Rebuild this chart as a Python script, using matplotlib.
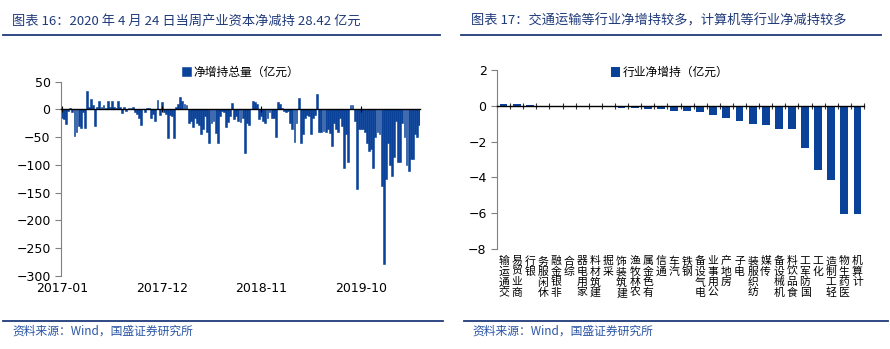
import matplotlib.pyplot as plt
from matplotlib.lines import Line2D
import numpy as np

plt.rcParams['font.family'] = ['Noto Sans CJK SC', 'DejaVu Sans']

BLUE = '#0a4299'
NAVY = '#1f3a7a'
FOOT = '#2a55a5'

# weekly net change of industrial capital holdings (100m yuan), 2017-01-06 .. 2020-04-24
net_total = [
    -15, -18, -27, -3, 2, -5, -48, -40, -30, -33,
    -5, -33, 33, 5, 18, 8, -30, 5, 16, 5,
    8, 3, 16, 5, 16, 5, 3, 16, 5, -6,
    5, -3, 3, 2, 4, -5, -8, -15, -28, 0,
    -5, 3, 2, -15, -8, -20, 17, -10, 13, -5,
    -8, -52, -10, -12, -52, 5, 10, 23, 15, 10,
    8, -25, -20, -32, -15, -25, -28, -45, -35, -12,
    -40, -60, -25, -20, -42, -60, -12, -3, -5, -32,
    -22, -12, 12, -18, -12, -20, -22, -15, -78, -25,
    -28, 0, 15, 13, 10, -18, -12, -20, -25, -15,
    -5, -15, -15, -50, 13, 10, 3, -3, -5, -3,
    -25, -35, -58, -25, 20, -60, -45, -15, -10, -12,
    -45, -15, -10, 27, -40, -40, -38, -40, -35, -43,
    -65, -25, -35, -40, -15, -30, -105, -45, -95, 8,
    8, -20, -143, -35, -35, -35, -40, -60, -75, -72,
    -105, -50, -40, -45, -137, -278, -125, -60, -100, -120,
    -85, -20, -95, -95, -25, -50, -100, -110, -90, -90,
    -45, -50, -28,
]
date_ticks = [0, 48, 96, 144]
date_labels = ['2017-01', '2017-12', '2018-11', '2019-10']

industries = ['交通运输', '商业贸易', '银行', '休闲服务', '非银金融', '综合', '家用电器',
              '建筑材料', '采掘', '建筑装饰', '农林牧渔', '有色金属', '通信', '汽车',
              '钢铁', '电气设备', '公用事业', '房地产', '电子', '纺织服装', '传媒',
              '机械设备', '食品饮料', '国防军工', '化工', '轻工制造', '医药生物', '计算机']
industry_net = [0.08, 0.08, 0.02, 0.01, 0.01, 0.0, 0.0, 0.0, -0.01, -0.13,
                -0.11, -0.2, -0.2, -0.28, -0.3, -0.35, -0.52, -0.68, -0.85, -1.02,
                -1.09, -1.3, -1.31, -2.35, -3.57, -4.17, -6.02, -6.06]

W, H = 890, 349
fig = plt.figure(figsize=(W / 100, H / 100), dpi=100)


def px_axes(l, t, r, b):
    return fig.add_axes([l / W, 1 - b / H, (r - l) / W, (b - t) / H])


def style_axes(ax):
    for s in ['top', 'right']:
        ax.spines[s].set_visible(False)
    ax.spines['left'].set_color('#808080')
    ax.spines['bottom'].set_position(('data', 0))
    ax.spines['bottom'].set_color('black')
    ax.spines['bottom'].set_linewidth(1.0)
    ax.tick_params(axis='y', colors='#808080', labelcolor='black', length=4,
                   labelsize=9)
    for lbl in ax.get_yticklabels():
        lbl.set_family('DejaVu Sans')
    ax.set_facecolor('none')


# left: weekly total
ax1 = px_axes(61, 81.7, 420, 276)
x = np.arange(len(net_total))
ax1.bar(x, net_total, width=0.9, color=BLUE, edgecolor=BLUE, linewidth=0.4,
        label='净增持总量（亿元）')
ax1.set_xlim(-0.5, len(net_total) - 0.5)
ax1.set_ylim(-300, 50)
ax1.set_yticks(np.arange(-300, 51, 50))
ax1.set_xticks(date_ticks)
ax1.tick_params(axis='x', direction='inout', length=4, color='black', labelbottom=False)
style_axes(ax1)
sec = ax1.secondary_xaxis('bottom')
sec.set_xticks(date_ticks, labels=date_labels)
sec.tick_params(length=0, pad=4, labelsize=9)
sec.spines['bottom'].set_visible(False)
for lbl in sec.get_xticklabels():
    lbl.set_family('DejaVu Sans')
ax1.legend(loc='center', bbox_to_anchor=(0.5, 1.05), frameon=False, fontsize=8.5,
           handlelength=0.8, handleheight=0.9, handletextpad=0.2)

# right: by industry
ax2 = px_axes(497, 70, 864, 249)
xi = np.arange(len(industries))
ax2.bar(xi, industry_net, width=0.6, color=BLUE, label='行业净增持（亿元）')
ax2.set_xlim(-0.5, len(industries) - 0.5)
ax2.set_ylim(-8, 2)
ax2.set_yticks(np.arange(-8, 3, 2))
ax2.set_xticks(np.arange(-0.5, len(industries), 1))
ax2.tick_params(axis='x', direction='inout', length=5, color='#333333', labelbottom=False)
style_axes(ax2)
for i, name in enumerate(industries):
    ax2.text(i, -0.04, '\n'.join(name[::-1]), transform=ax2.get_xaxis_transform(),
             ha='center', va='top', fontsize=7.8, linespacing=1.05)
ax2.legend(loc='center', bbox_to_anchor=(0.47, 0.985), frameon=False, fontsize=8.5,
           handlelength=0.8, handleheight=0.9, handletextpad=0.2)

# titles, rules and sources
fig.text(12 / W, 1 - 21 / H, '图表 16：2020 年 4 月 24 日当周产业资本净减持 28.42 亿元',
         color=NAVY, fontsize=9.5, style='italic', va='center')
fig.text(471 / W, 1 - 21 / H, '图表 17：交通运输等行业净增持较多，计算机等行业净减持较多',
         color=NAVY, fontsize=9.5, style='italic', va='center')
for x0, x1 in [(3, 440), (461, 881)]:
    fig.add_artist(Line2D([x0 / W, x1 / W], [1 - 35 / H, 1 - 35 / H],
                          transform=fig.transFigure, color=NAVY, lw=1.3))
for x0, x1 in [(3, 443), (464, 888)]:
    fig.add_artist(Line2D([x0 / W, x1 / W], [1 - 321 / H, 1 - 321 / H],
                          transform=fig.transFigure, color=NAVY, lw=1.3))
fig.text(12 / W, 1 - 331 / H, '资料来源：Wind，国盛证券研究所', color=FOOT,
         fontsize=8.5, style='italic', va='center')
fig.text(472 / W, 1 - 331 / H, '资料来源：Wind，国盛证券研究所', color=FOOT,
         fontsize=8.5, style='italic', va='center')

fig.savefig('out.png', dpi=100, facecolor='white')
